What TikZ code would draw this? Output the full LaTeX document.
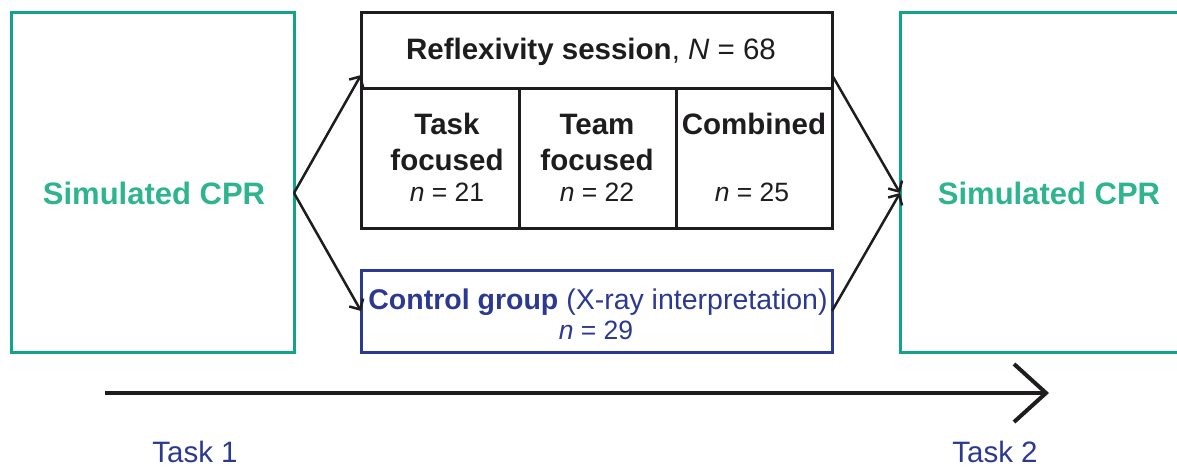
\documentclass[tikz,border=0pt]{standalone}
\usepackage{fontspec}
\setmainfont{Liberation Sans}
\usetikzlibrary{arrows.meta}
\definecolor{cprframe}{RGB}{18,163,138}
\definecolor{cprtext}{RGB}{46,180,142}
\definecolor{ctrlblue}{RGB}{43,57,144}
\definecolor{ink}{RGB}{30,28,30}
\newcommand{\sz}[1]{\fontsize{#1}{#1}\selectfont}
\tikzset{
  cprbox/.style={draw=cprframe, line width=3pt, rectangle, inner sep=0pt, outer sep=0pt},
  cprlabel/.style={text=cprtext, font=\sz{31}\bfseries, inner sep=0pt},
  blackbox/.style={draw=ink, line width=3pt, rectangle, inner sep=0pt, outer sep=0pt},
  ctrlbox/.style={draw=ctrlblue, line width=3pt, rectangle, inner sep=0pt, outer sep=0pt},
  celltxt/.style={text=ink, font=\sz{29.5}\bfseries, inner sep=0pt},
  ntxt/.style={text=ink, font=\sz{26.5}, inner sep=0pt},
  flow/.style={draw=ink, line width=2.5pt, -{Straight Barb[length=8pt,width=16pt,line width=2.5pt]}},
  timeline/.style={draw=ink, line width=4pt, -{Straight Barb[length=32pt,width=58pt,line width=4pt]}},
  tasklbl/.style={text=ctrlblue, font=\sz{29.5}, inner sep=0pt}
}
\begin{document}
\begin{tikzpicture}[x=1pt,y=-1pt]
\useasboundingbox (0,0) rectangle (1177,469);

% simulated CPR blocks
\node[cprbox, minimum width=283pt, minimum height=340pt] (L) at (152.5,182) {};
\node[cprlabel] (Ltxt) at (154,193) {Simulated CPR};
\node[cprbox, minimum width=283pt, minimum height=340pt] (R) at (1041.5,182) {};
\node[cprlabel] (Rtxt) at (1049,193) {Simulated CPR};

% reflexivity session block
\node[blackbox, minimum width=471pt, minimum height=76pt] (refl) at (596.5,50) {};
\node[text=ink, inner sep=0pt] (refltxt) at (591,52)
  {\sz{29.5}\textbf{Reflexivity session}, \textit{N} = 68};
\node[blackbox, minimum width=158pt, minimum height=140pt] (c1) at (440,158) {};
\node[blackbox, minimum width=157pt, minimum height=140pt] (c2) at (597.5,158) {};
\node[blackbox, minimum width=156pt, minimum height=140pt] (c3) at (754,158) {};

\node[celltxt] (c1a) at (447,124) {Task};
\node[celltxt] (c1b) at (447,160) {focused};
\node[ntxt] (c1n) at (447,192) {\textit{n} = 21};
\node[celltxt] (c2a) at (597,124) {Team};
\node[celltxt] (c2b) at (597,160) {focused};
\node[ntxt] (c2n) at (597,192) {\textit{n} = 22};
\node[celltxt] (c3a) at (754,124) {Combined};
\node[ntxt] (c3n) at (752,192) {\textit{n} = 25};

% control group block
\node[ctrlbox, minimum width=471pt, minimum height=82pt] (ctrl) at (596.5,311) {};
\node[text=ctrlblue, inner sep=0pt] (ctrltxt) at (598,302)
  {\sz{28.5}\textbf{Control group} (X-ray interpretation)};
\node[text=ctrlblue, font=\sz{26.5}, inner sep=0pt] (ctrln) at (596,330) {\textit{n} = 29};

% flow arrows
\draw[flow] ([yshift=-11pt]L.east) -- ([yshift=13pt]refl.south west);
\draw[flow] ([yshift=-11pt]L.east) -- (ctrl.west);
\draw[flow] ([yshift=13pt]refl.south east) -- ([yshift=-11pt]R.west);
\draw[flow] (ctrl.east) -- ([yshift=-11pt]R.west);

% time axis
\coordinate (t0) at (105,393);
\coordinate (t1) at (1049,393);
\draw[timeline] (t0) -- (t1);
\node[tasklbl] (task1) at (195,452) {Task 1};
\node[tasklbl] (task2) at (995,452) {Task 2};
\end{tikzpicture}
\end{document}
